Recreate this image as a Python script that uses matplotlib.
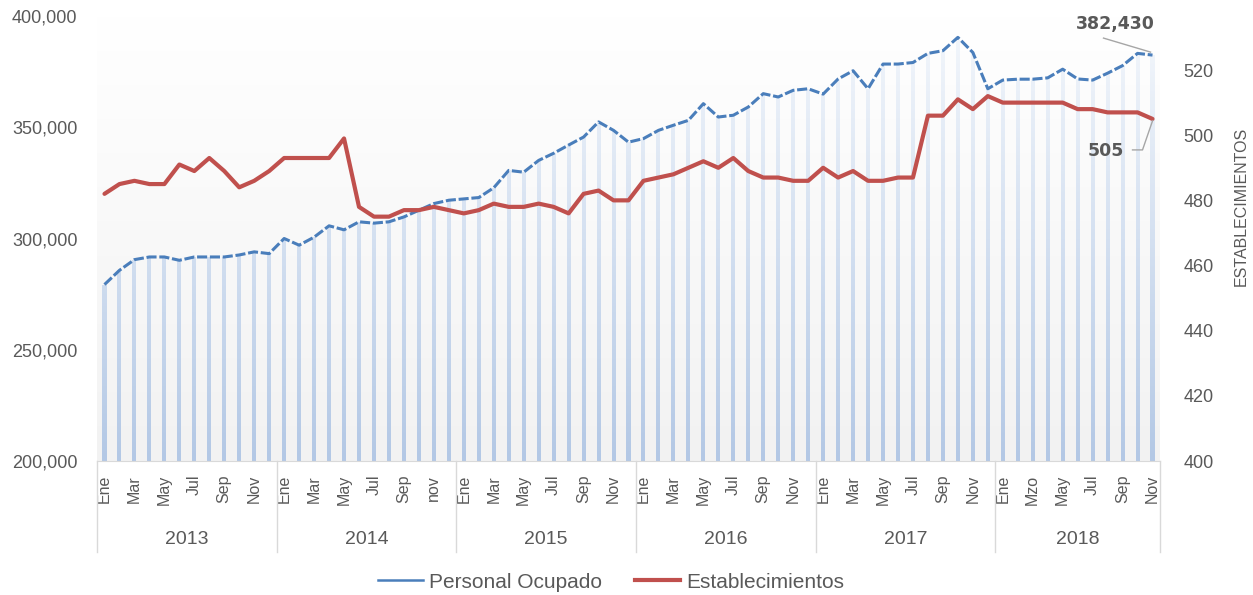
import numpy as np
import matplotlib
matplotlib.use('Agg')
import matplotlib.pyplot as plt
from matplotlib.colors import LinearSegmentedColormap
from matplotlib.path import Path
from matplotlib.patches import PathPatch
from matplotlib.lines import Line2D
from matplotlib.transforms import blended_transform_factory
from matplotlib import font_manager as fm

# data, monthly Ene 2013 - Nov 2018
years = ['2013', '2014', '2015', '2016', '2017', '2018']
months_per_year = [12, 12, 12, 12, 12, 11]

personal = [
    279300, 285700, 290500, 291700, 291700, 290200, 291700, 291700, 291700, 292600, 294000, 293200,
    300000, 297000, 300600, 305700, 303900, 307500, 306900, 307500, 309700, 312700, 315700, 317200,
    317800, 318400, 322800, 330600, 329800, 335100, 338300, 342000, 345600, 352400, 348600, 343300,
    344900, 348600, 350900, 353100, 360600, 354600, 355400, 359100, 365100, 363600, 366600, 367300,
    364900, 371700, 375400, 367300, 378400, 378400, 379100, 383200, 384400, 390400, 383600, 367300,
    371200, 371600, 371600, 372200, 376100, 371700, 371200, 374300, 377700, 383200, 382430,
]
establecimientos = [
    482, 485, 486, 485, 485, 491, 489, 493, 489, 484, 486, 489,
    493, 493, 493, 493, 499, 478, 475, 475, 477, 477, 478, 477,
    476, 477, 479, 478, 478, 479, 478, 476, 482, 483, 480, 480,
    486, 487, 488, 490, 492, 490, 493, 489, 487, 487, 486, 486,
    490, 487, 489, 486, 486, 487, 487, 506, 506, 511, 508, 512,
    510, 510, 510, 510, 510, 508, 508, 507, 507, 507, 505,
]
month_ticks = (
    ['Ene', 'Mar', 'May', 'Jul', 'Sep', 'Nov'] * 4 + ['Ene', 'Mar', 'May', 'Jul', 'Sep', 'Nov']
)
month_ticks[11] = 'nov'
month_ticks = month_ticks + ['Ene', 'Mzo', 'May', 'Jul', 'Sep', 'Nov']

BLUE = '#4a7ebb'
RED = '#c0504d'
GRAY = '#595959'
FONT = 'Liberation Sans'


def has_font(name):
    try:
        fm.findfont(fm.FontProperties(family=name), fallback_to_default=False)
        return True
    except ValueError:
        return False


NARROW = 'Liberation Sans Narrow' if has_font('Liberation Sans Narrow') else FONT
plt.rcParams['font.family'] = FONT

W, H = 1253, 595
fig = plt.figure(figsize=(W / 100, H / 100), dpi=100)
L, R, B, T = 97, 1160, 461, 16
ax = fig.add_axes([L / W, 1 - B / H, (R - L) / W, (B - T) / H])
ax.patch.set_visible(False)

n = len(personal)
x = np.arange(n)
ymin, ymax = 200000, 400000

# plot area gradient background
grad = np.linspace(0, 1, 256).reshape(-1, 1)
bg_cmap = LinearSegmentedColormap.from_list('bg', ['#f2f2f2', '#ffffff'])
ax.imshow(grad, extent=(-0.5, n - 0.5, ymin, ymax), origin='lower', aspect='auto',
          cmap=bg_cmap, zorder=0, interpolation='bilinear')

# thin gradient columns under the blue line
bw = 0.27
verts, codes = [], []
for xi, v in zip(x, personal):
    verts += [(xi - bw / 2, ymin), (xi + bw / 2, ymin), (xi + bw / 2, v), (xi - bw / 2, v), (0, 0)]
    codes += [Path.MOVETO, Path.LINETO, Path.LINETO, Path.LINETO, Path.CLOSEPOLY]
clip = PathPatch(Path(verts, codes), transform=ax.transData, fc='none', ec='none')
bar_cmap = LinearSegmentedColormap.from_list('bars', ['#b3c8e5', '#f5f8fc'])
im = ax.imshow(grad, extent=(-0.5, n - 0.5, ymin, ymax), origin='lower', aspect='auto',
               cmap=bar_cmap, zorder=1, interpolation='bilinear')
im.set_clip_path(clip)

ax.plot(x, personal, color=BLUE, lw=2.2, ls=(0, (3.3, 0.9)), dash_capstyle='butt', zorder=3)

ax2 = ax.twinx()
ax2.plot(x, establecimientos, color=RED, lw=3, solid_joinstyle='round',
         solid_capstyle='round', zorder=3)

ax.set_xlim(-0.5, n - 0.5)
ax.set_ylim(ymin, ymax)
ax2.set_ylim(400, 400 + (B - T) / 3.258)

for s in ax.spines.values():
    s.set_visible(False)
for s in ax2.spines.values():
    s.set_visible(False)
ax.spines['bottom'].set_visible(True)
ax.spines['bottom'].set_color('#d9d9d9')

ax.set_yticks(range(ymin, ymax + 1, 50000))
ax.set_yticklabels([f'{v:,}' for v in range(ymin, ymax + 1, 50000)])
ax.tick_params(axis='y', length=0, pad=14, labelsize=13, labelcolor=GRAY)
ax2.set_yticks(range(400, 521, 20))
ax2.tick_params(axis='y', length=0, pad=17, labelsize=13, labelcolor=GRAY)

ax.set_xticks(x[::2])
ax.set_xticklabels(month_ticks, rotation=90)
ax.tick_params(axis='x', length=0, pad=10, labelsize=11.5, labelcolor=GRAY)

# year groups under the month labels
trans = blended_transform_factory(ax.transData, ax.transAxes)
sep_bottom = -(552 - B) / (B - T)
year_y = -(540 - B) / (B - T)
start = 0
bounds = [-0.5]
for yr, cnt in zip(years, months_per_year):
    ax.text(start + cnt / 2 - 0.5, year_y, yr, transform=trans, ha='center', va='center',
            fontsize=14, color=GRAY)
    start += cnt
    bounds.append(start - 0.5)
for bx in bounds:
    ax.plot([bx, bx], [0, sep_bottom], transform=trans, color='#d9d9d9', lw=1, clip_on=False)

fig.text(1241 / W, 1 - 206 / H, 'ESTABLECIMIENTOS', rotation=90, ha='center', va='center',
         fontsize=14 if NARROW != FONT else 11.5, color=GRAY, family=NARROW)

# data labels with leader lines
to_fig = fig.transFigure.inverted()


def leader(axis, xd, yd, offsets):
    px = axis.transData.transform((xd, yd))
    pts = to_fig.transform([px + np.array(o) for o in offsets])
    fig.add_artist(Line2D(pts[:, 0], pts[:, 1], color='#a6a6a6', lw=1, transform=fig.transFigure))


def label(axis, xd, yd, text, dx, dy):
    ax_ = axis.annotate(text, (xd, yd), xytext=(dx, dy), textcoords='offset pixels',
                        ha='center', va='center', fontsize=12.5, fontweight='bold',
                        color=GRAY, family='DejaVu Sans', annotation_clip=False)
    return ax_


last = n - 1
label(ax, last, personal[-1], f'{personal[-1]:,}', -37, 31)
leader(ax, last, personal[-1], [(-49, 17), (-2, 3)])
label(ax2, last, establecimientos[-1], f'{establecimientos[-1]}', -47, -32)
leader(ax2, last, establecimientos[-1], [(-20, -31), (-10, -31), (0, -2)])

handles = [Line2D([], [], color=BLUE, lw=1.8), Line2D([], [], color=RED, lw=3)]
leg = fig.legend(handles, ['Personal Ocupado', 'Establecimientos'], loc='center',
                 bbox_to_anchor=(611 / W, 1 - 582 / H), ncol=2, frameon=False,
                 fontsize=15, handlelength=2.16, handletextpad=0.3, columnspacing=1.6)
for t in leg.get_texts():
    t.set_color(GRAY)

fig.savefig('out.png', dpi=100)
